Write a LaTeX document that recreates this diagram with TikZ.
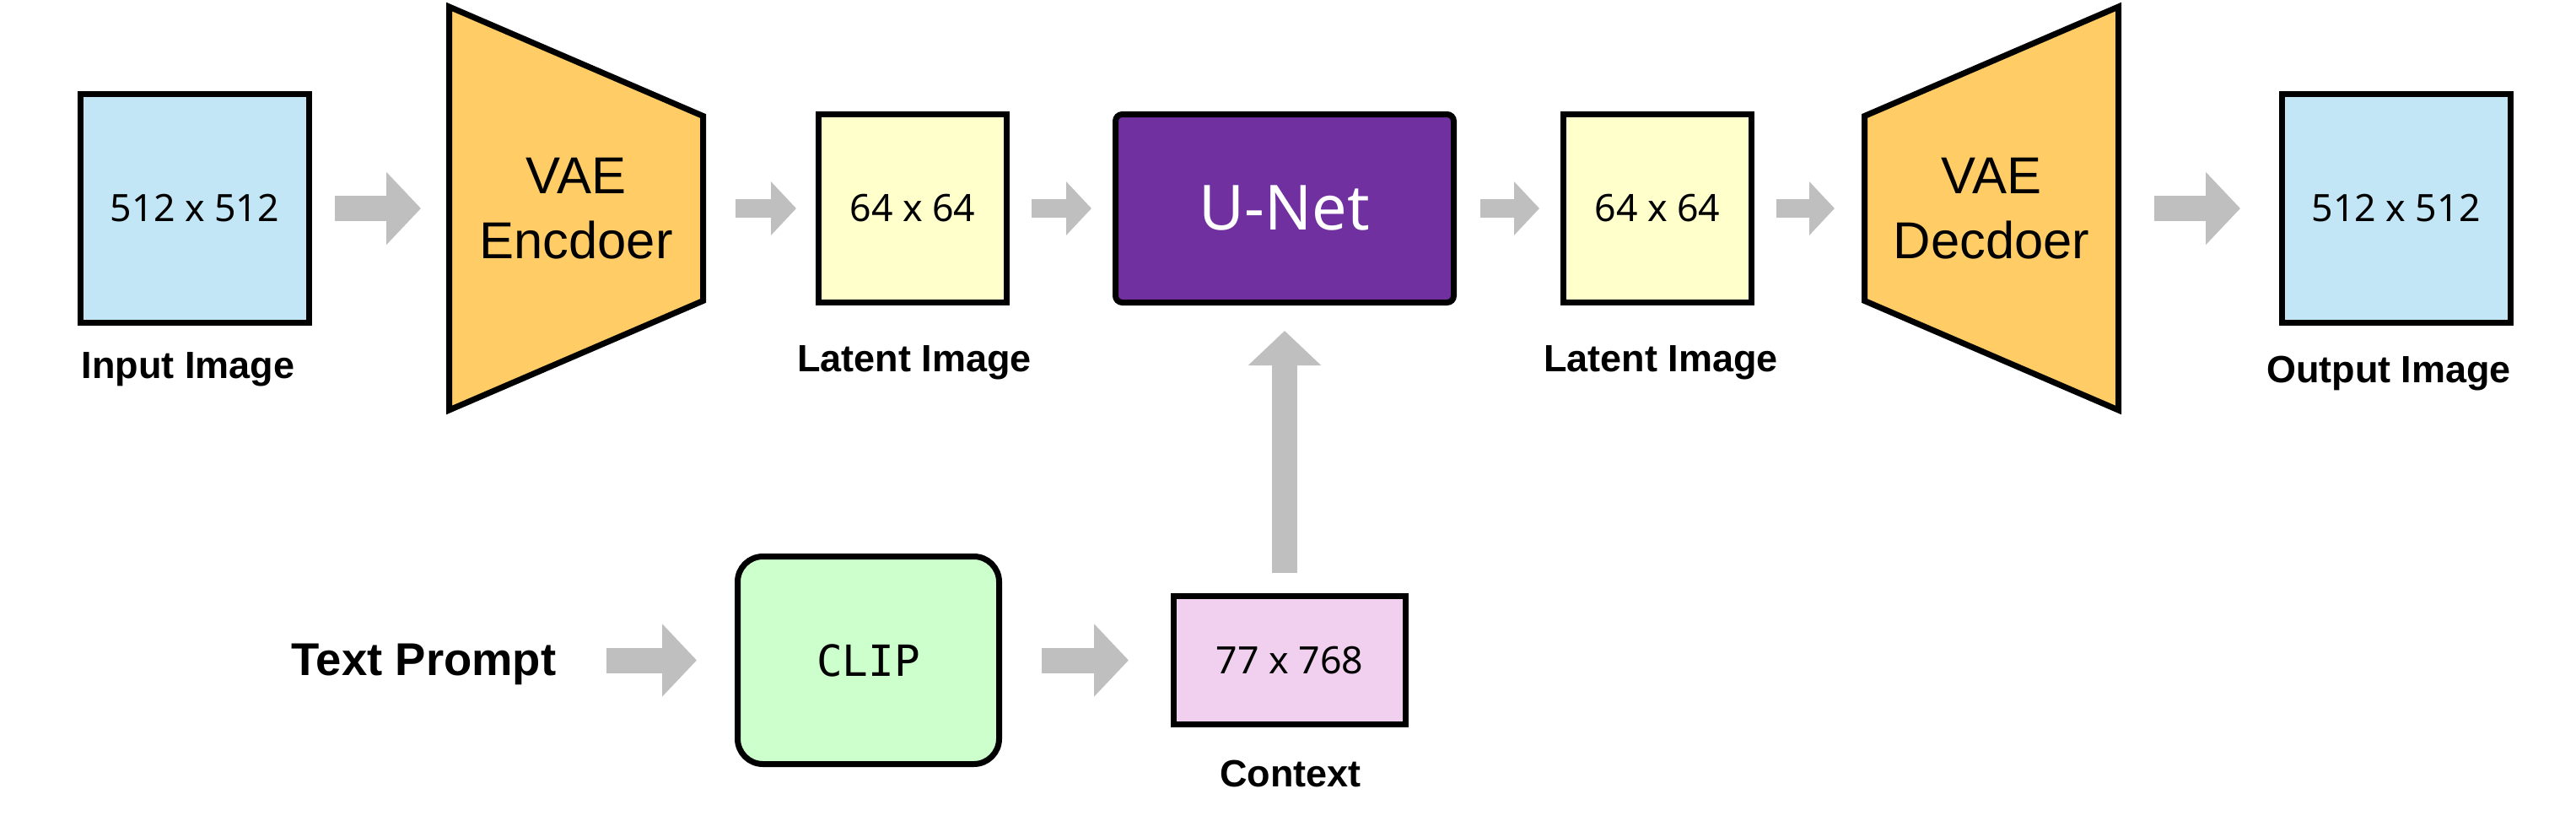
\documentclass[tikz,border=0pt]{standalone}
\usepackage{fontspec}
\setmainfont{Liberation Sans}
\newfontfamily\dimfont{Noto Sans}
\newfontfamily\clipfont{DejaVu Sans Mono}
\usepackage{tikz}
\usetikzlibrary{arrows.meta, backgrounds}
\definecolor{imgBlue}{RGB}{194,230,245}
\definecolor{latYellow}{RGB}{255,255,204}
\definecolor{coderOrange}{RGB}{255,204,102}
\definecolor{unetPurple}{RGB}{112,48,160}
\definecolor{clipGreen}{RGB}{204,255,204}
\definecolor{ctxPink}{RGB}{240,208,238}
\definecolor{flowGray}{RGB}{191,191,191}

\begin{document}
\begin{tikzpicture}[
  box/.style={draw=black, line width=0.07cm, inner sep=0pt, font=\dimfont\fontsize{12.7}{15}\selectfont},
  imgbox/.style={box, fill=imgBlue, minimum width=2.71cm, minimum height=2.71cm},
  latbox/.style={box, fill=latYellow, minimum width=2.23cm, minimum height=2.23cm},
  coder/.style={inner sep=0pt, outer sep=0pt, minimum width=3.01cm, minimum height=4.78cm, align=center, font=\fontsize{17.5}{21.8}\selectfont},
  coderfill/.style={draw=black, fill=coderOrange, line width=0.07cm, line join=miter},
  lbl/.style={anchor=base, font=\bfseries\fontsize{12.8}{15}\selectfont},
  bigflow/.style={draw=flowGray, line width=0.30cm, -{Triangle[width=0.84cm, length=0.41cm]}},
  smallflow/.style={draw=flowGray, line width=0.22cm, -{Triangle[width=0.62cm, length=0.30cm]}}
]
  \useasboundingbox (0,0) rectangle (30.54,-9.72);

  % Image path
  \node[imgbox] (in) at (2.31,-2.47) {512 x 512};
  \node[coder] (enc) at (6.83,-2.47) {VAE\\Encdoer};
  \node[latbox] (lat1) at (10.82,-2.47) {64 x 64};
  \node[box, fill=unetPurple, rounded corners=0.08cm, minimum width=4.01cm, minimum height=2.23cm,
        text=white, font=\dimfont\fontsize{21}{25}\selectfont] (unet) at (15.23,-2.47) {U-Net};
  \node[latbox] (lat2) at (19.65,-2.47) {64 x 64};
  \node[coder] (dec) at (23.61,-2.47) {VAE\\Decdoer};
  \node[imgbox] (out) at (28.405,-2.47) {512 x 512};

  % VAE trapezoids
  \begin{scope}[on background layer]
    \draw[coderfill] (enc.north west) -- ([yshift=-1.295cm]enc.north east)
      -- ([yshift=1.295cm]enc.south east) -- (enc.south west) -- cycle;
    \draw[coderfill] ([yshift=-1.295cm]dec.north west) -- (dec.north east)
      -- (dec.south east) -- ([yshift=1.295cm]dec.south west) -- cycle;
  \end{scope}

  % Labels
  \node[lbl] (inlbl) at (2.23,-4.48) {Input Image};
  \node[lbl] (lat1lbl) at (10.84,-4.40) {Latent Image};
  \node[lbl] (lat2lbl) at (19.69,-4.40) {Latent Image};
  \node[lbl] (outlbl) at (28.32,-4.53) {Output Image};

  % Text conditioning
  \node[anchor=base, font=\bfseries\fontsize{15.5}{18}\selectfont] (prompt) at (5.025,-8.00) {Text Prompt};
  \node[box, fill=clipGreen, rounded corners=0.3cm, minimum width=3.10cm, minimum height=2.46cm,
        font=\clipfont\fontsize{14.5}{17}\selectfont] (clip) at (10.295,-7.825) {CLIP};
  \node[box, fill=ctxPink, minimum width=2.75cm, minimum height=1.52cm] (ctx) at (15.29,-7.825) {77 x 768};
  \node[lbl] (ctxlbl) at (15.30,-9.32) {Context};

  % Flow arrows
  \draw[bigflow, shorten <=0.27cm, shorten >=0.335cm] (in.east) -- (enc.west);
  \draw[smallflow, shorten <=0.385cm, shorten >=0.23cm] (enc.east) -- (lat1.west);
  \draw[smallflow, shorten <=0.26cm, shorten >=0.25cm] (lat1.east) -- (unet.west);
  \draw[smallflow, shorten <=0.28cm, shorten >=0.25cm] (unet.east) -- (lat2.west);
  \draw[smallflow, shorten <=0.26cm, shorten >=0.355cm] (lat2.east) -- (dec.west);
  \draw[bigflow, shorten <=0.425cm, shorten >=0.455cm] (dec.east) -- (out.west);
  \draw[bigflow, shorten <=0.47cm, shorten >=0.45cm] (prompt.east |- clip.west) -- (clip.west);
  \draw[bigflow, shorten <=0.47cm, shorten >=0.50cm] (clip.east) -- (ctx.west);
  \draw[bigflow, shorten <=0.24cm, shorten >=0.30cm] (ctx.north -| unet.south) -- (unet.south);
\end{tikzpicture}
\end{document}
